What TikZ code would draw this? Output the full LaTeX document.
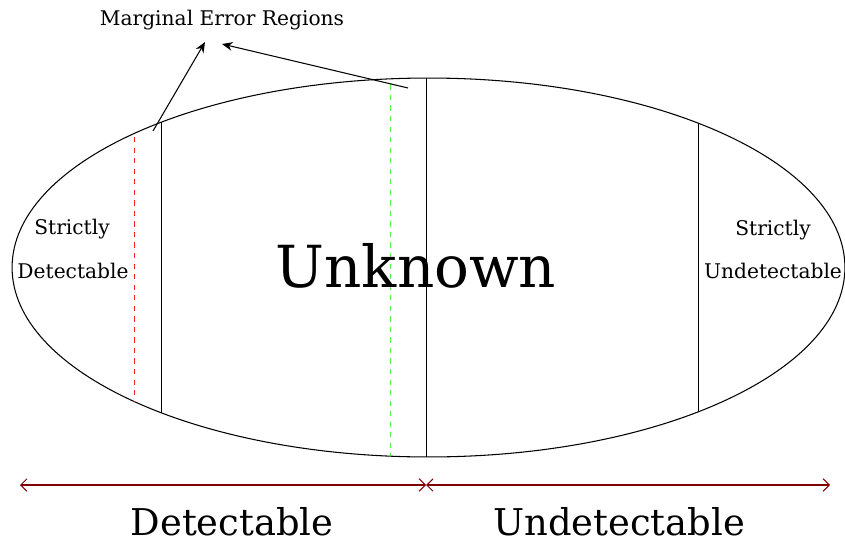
\documentclass[tikz,border=0pt]{standalone}
\usepackage{fontspec}
\setmainfont{DejaVu Serif}
\usepackage{xcolor}
\usepackage{tikz}
\usetikzlibrary{positioning, arrows.meta, calc}
\definecolor{splitred}{HTML}{800000}
\definecolor{marginred}{HTML}{FF2020}
\definecolor{margingreen}{HTML}{55EE55}

\begin{document}
\begin{tikzpicture}[x=0.02cm, y=-0.02cm]
    \useasboundingbox (0,0) rectangle (845,544);
    % outer set
    \draw[line width=0.6pt] (428.5,267.5) ellipse [x radius=8.33cm, y radius=3.79cm];
    \begin{scope}
      \clip (428.5,267.5) ellipse [x radius=8.33cm, y radius=3.79cm];
      \draw[marginred, dashed, line width=0.5pt] (134,0) -- (134,544);
      \draw[line width=0.5pt] (161,0) -- (161,544);
      \draw[margingreen, dashed, line width=0.5pt] (390,0) -- (390,544);
      \draw[line width=0.5pt] (426,0) -- (426,544);
      \draw[line width=0.5pt] (698,0) -- (698,544);
    \end{scope}

    \node (unknown) at (416,266) {\fontsize{33}{38}\selectfont Unknown};
    \node (sdet1) at (72,229) {\fontsize{11.5}{14}\selectfont Strictly};
    \node (sdet2) at (73,271) {\fontsize{11.5}{14}\selectfont Detectable};
    \node (sund1) at (773,230) {\fontsize{11.5}{14}\selectfont Strictly};
    \node (sund2) at (773,271) {\fontsize{11.5}{14}\selectfont Undetectable};

    % marginal regions
    \node (margin) at (222,20) {\fontsize{11.5}{14}\selectfont Marginal Error Regions};
    \coordinate (leftmark) at (153,131);
    \coordinate (rightmark) at (408,88);
    \coordinate (lefttip) at (205,42);
    \coordinate (righttip) at (222,44);
    \draw[-{Stealth[length=6pt,width=5pt]}, semithick] (leftmark) -- (lefttip);
    \draw[-{Stealth[length=6pt,width=5pt]}, semithick] (rightmark) -- (righttip);

    % detectable / undetectable split
    \coordinate (detleft) at (20,485);
    \coordinate (split) at (426,485);
    \coordinate (undright) at (830,485);
    \draw[splitred, semithick, {Straight Barb[length=3.5pt,width=7pt]}-{Straight Barb[length=3.5pt,width=7pt]}] (detleft) -- (split);
    \draw[splitred, semithick, {Straight Barb[length=3.5pt,width=7pt]}-{Straight Barb[length=3.5pt,width=7pt]}] (split) -- (undright);
    \node (det) at (232,522) {\fontsize{21}{24}\selectfont Detectable};
    \node (undet) at (619,522) {\fontsize{21}{24}\selectfont Undetectable};
  \end{tikzpicture}
\end{document}
